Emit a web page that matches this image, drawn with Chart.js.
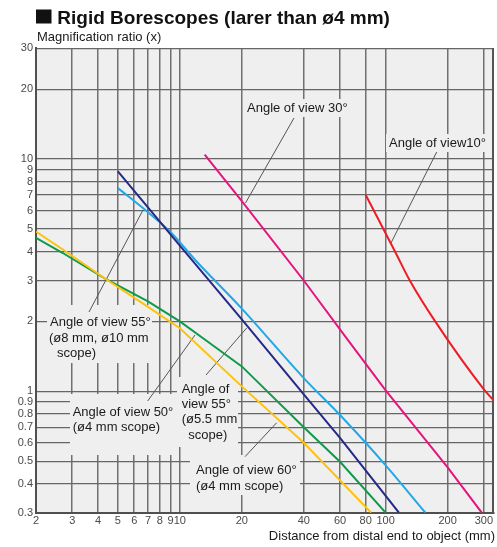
<!DOCTYPE html>
<html>
<head>
<meta charset="utf-8">
<script src="https://cdn.jsdelivr.net/npm/chart.js@4.4.1/dist/chart.umd.min.js"></script>
<style>
    html, body { margin: 0; padding: 0; background: #fff; }
    #wrap { width: 497px; height: 547px; position: relative; }
</style>
</head>
<body>
<div id="wrap"><canvas id="scopeChart"></canvas></div>
<script>
        // Ticks shown on the axes
        const xTickValues = [2, 3, 4, 5, 6, 7, 8, 9, 10, 20, 40, 60, 80, 100, 200, 300];
        const yTickValues = [0.3, 0.4, 0.5, 0.6, 0.7, 0.8, 0.9, 1, 2, 3, 4, 5, 6, 7, 8, 9, 10, 20, 30];

        // Angle of view 60° (ø4 mm scope)
        const dist60 = [2, 2.7, 4.4, 7, 10, 20, 40, 85];
        const mag60 = [4.87, 4.08, 3.03, 2.31, 1.87, 1.05, 0.6, 0.3];

        // Angle of view 50° (ø4 mm scope)
        const dist50 = [2, 2.7, 4.4, 7, 10, 14, 20, 40, 60, 100];
        const mag50 = [4.58, 3.94, 3.03, 2.44, 2.0, 1.61, 1.28, 0.7, 0.497, 0.3];

        // Angle of view 55° (ø5.5 mm scope)
        const dist55s = [5, 10, 20, 40, 60, 116];
        const mag55s = [8.85, 4.24, 2.04, 0.97, 0.63, 0.3];

        // Angle of view 55° (ø8 mm, ø10 mm scope)
        const dist55l = [5, 7, 9, 12, 20, 40, 60, 100, 156];
        const mag55l = [7.5, 5.9, 4.85, 3.64, 2.27, 1.14, 0.79, 0.48, 0.3];

        // Angle of view 30°
        const dist30 = [13.2, 20, 40, 66, 100, 200, 293];
        const mag30 = [10.45, 6.59, 3.0, 1.65, 1.01, 0.47, 0.3];

        // Angle of view 10°
        const dist10 = [80, 111, 131, 174, 300, 336];
        const mag10 = [7.0, 4.0, 3.0, 2.0, 1.02, 0.91];

        function toPoints(xs, ys) {
            return xs.map((x, i) => ({ x: x, y: ys[i] }));
        }

        function series(xs, ys, color, smooth) {
            return {
                data: toPoints(xs, ys),
                borderColor: color,
                borderWidth: 2,
                pointRadius: 0,
                fill: false,
                tension: 0,
                cubicInterpolationMode: smooth ? 'monotone' : 'default'
            };
        }

        // Text boxes and leader lines (canvas pixels)
        const notes = [
            { box: [244, 99, 345, 117], lines: [['Angle of view 30°', 247, 108]], leader: [294, 118, 245.5, 203] },
            { box: [386, 134, 487, 152], lines: [['Angle of view10°', 389, 143]], leader: [436.7, 152, 391, 243] },
            { box: [47, 305, 152, 363], lines: [['Angle of view 55°', 50, 322.7], ['(ø8 mm, ø10 mm', 49, 338.3], ['scope)', 57, 353.5]], leader: [89, 312, 143, 210] },
            { box: [70, 394, 177, 455], lines: [['Angle of view 50°', 72.7, 412.3], ['(ø4 mm scope)', 72.7, 427.3]], leader: [147.7, 401, 195, 335] },
            { box: [177, 377, 238, 447], lines: [['Angle of', 181.7, 389], ['view 55°', 181.7, 404], ['(ø5.5 mm', 181.7, 419], ['scope)', 188.3, 435]], leader: [206, 375, 246.7, 328] },
            { box: [190, 455, 300, 495], lines: [['Angle of view 60°', 196, 470], ['(ø4 mm scope)', 196, 486]], leader: [245, 456.7, 276.7, 422.7] }
        ];

        const plotDecor = {
            id: 'plotDecor',
            beforeDraw(chart) {
                const { ctx, chartArea: a } = chart;
                ctx.save();
                ctx.fillStyle = '#efefef';
                ctx.fillRect(a.left, a.top, a.right - a.left, a.bottom - a.top);
                ctx.restore();
            },
            beforeDatasetsDraw(chart) {
                const { ctx, chartArea: a } = chart;
                ctx.save();
                // right edge of the frame
                ctx.strokeStyle = '#555';
                ctx.lineWidth = 2;
                ctx.beginPath();
                ctx.moveTo(a.right - 1, a.top);
                ctx.lineTo(a.right - 1, a.bottom);
                ctx.stroke();

                notes.forEach(n => {
                    const b = n.box;
                    ctx.fillStyle = '#efefef';
                    ctx.fillRect(b[0], b[1], b[2] - b[0], b[3] - b[1]);
                });
                ctx.strokeStyle = '#555';
                ctx.lineWidth = 1;
                notes.forEach(n => {
                    const l = n.leader;
                    ctx.beginPath();
                    ctx.moveTo(l[0], l[1]);
                    ctx.lineTo(l[2], l[3]);
                    ctx.stroke();
                });
                ctx.fillStyle = '#1a1a1a';
                ctx.font = '13px "Liberation Sans", Arial, sans-serif';
                ctx.textAlign = 'left';
                ctx.textBaseline = 'middle';
                notes.forEach(n => {
                    n.lines.forEach(t => ctx.fillText(t[0], t[1], t[2]));
                });
                ctx.restore();
            },
            afterDraw(chart) {
                const ctx = chart.ctx;
                ctx.save();
                ctx.fillStyle = '#111';
                ctx.fillRect(36, 9.5, 15.5, 14);
                ctx.font = 'bold 19px "Liberation Sans", Arial, sans-serif';
                ctx.textBaseline = 'alphabetic';
                ctx.textAlign = 'left';
                ctx.fillText('Rigid Borescopes (larer than ø4 mm)', 57.3, 24);

                ctx.fillStyle = '#1a1a1a';
                ctx.font = '13px "Liberation Sans", Arial, sans-serif';
                ctx.fillText('Magnification ratio (x)', 37, 40.5);

                ctx.textAlign = 'right';
                ctx.textBaseline = 'middle';
                ctx.fillText('Distance from distal end to object (mm)', 495, 536.5);
                ctx.restore();
            }
        };

        const tickFont = { family: '"Liberation Sans", Arial, sans-serif', size: 11 };

        const ctx = document.getElementById('scopeChart').getContext('2d');
        const scopeChart = new Chart(ctx, {
            type: 'line',
            data: {
                datasets: [
                    series(dist60, mag60, '#fcc20c', false),
                    series(dist50, mag50, '#119a4a', false),
                    series(dist55s, mag55s, '#262a86', false),
                    series(dist55l, mag55l, '#22a8e6', true),
                    series(dist30, mag30, '#e6147e', false),
                    series(dist10, mag10, '#ee1c25', true)
                ]
            },
            options: {
                responsive: true,
                maintainAspectRatio: false,
                animation: false,
                layout: {
                    padding: { top: 48.3, right: 3, left: 0, bottom: 0 }
                },
                plugins: {
                    legend: { display: false },
                    tooltip: { enabled: false },
                    title: { display: false }
                },
                scales: {
                    x: {
                        type: 'logarithmic',
                        min: 2,
                        max: 336,
                        afterBuildTicks: function(scale) {
                            scale.ticks = xTickValues.map(v => ({ value: v }));
                        },
                        afterFit: function(scale) {
                            scale.height = 34.3;
                        },
                        ticks: {
                            autoSkip: false,
                            maxRotation: 0,
                            padding: 2,
                            color: '#4a4a4a',
                            font: tickFont,
                            callback: function(value) {
                                return String(value);
                            }
                        },
                        grid: {
                            color: '#707070',
                            lineWidth: 1.5,
                            drawTicks: false
                        },
                        border: { display: true, color: '#505050', width: 2 }
                    },
                    y: {
                        type: 'logarithmic',
                        min: 0.3,
                        max: 30,
                        afterBuildTicks: function(scale) {
                            scale.ticks = yTickValues.map(v => ({ value: v }));
                        },
                        afterFit: function(scale) {
                            scale.width = 36;
                        },
                        ticks: {
                            autoSkip: false,
                            padding: 3,
                            color: '#4a4a4a',
                            font: tickFont,
                            callback: function(value) {
                                return String(value);
                            }
                        },
                        grid: {
                            color: '#666',
                            lineWidth: 1.3,
                            drawTicks: false
                        },
                        border: { display: true, color: '#505050', width: 2 }
                    }
                }
            },
            plugins: [plotDecor]
        });
</script>
</body>
</html>
